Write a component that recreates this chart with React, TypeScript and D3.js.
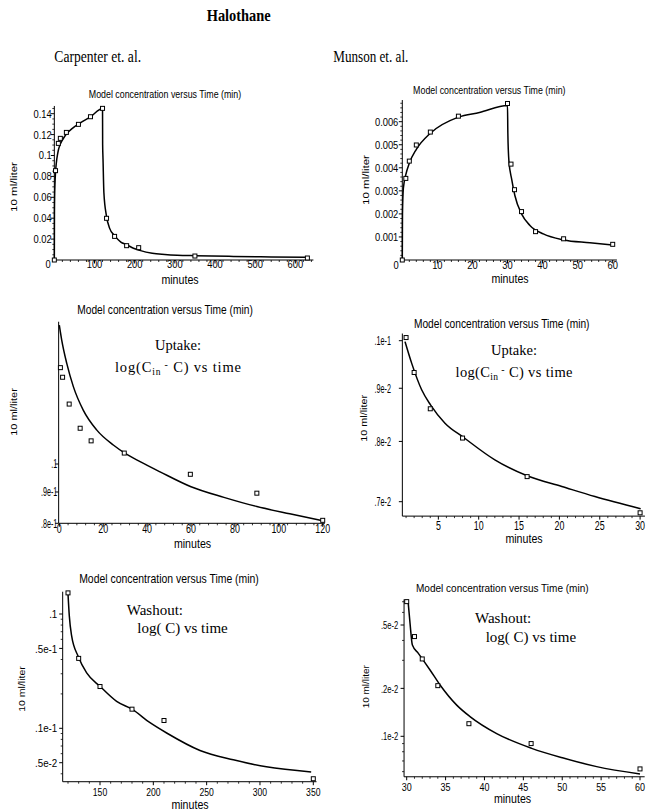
import React from 'react';
import * as d3 from 'd3';

type Pt = [number, number];

const SANS = "'Liberation Sans', Arial, Helvetica, sans-serif";
const SERIF = "'Liberation Serif', 'Times New Roman', serif";

// ---------------- data ----------------
// Carpenter et. al. – concentration vs time (linear)
const carpenterPoints: Pt[] = [
  [0, 0], [3, 0.0855], [10, 0.1116], [15, 0.1164], [30, 0.1221], [60, 0.1298], [90, 0.1371],
  [120, 0.1451], [130, 0.0399], [150, 0.0226], [180, 0.0137], [210, 0.0118], [350, 0.0038], [630, 0.0019],
];
const carpenterCurve: Pt[] = [
  [0, 0], [0.3, 0.045], [0.8, 0.062], [1.5, 0.072], [3, 0.084], [5, 0.093], [8, 0.101], [10, 0.105],
  [15, 0.111], [22, 0.116], [31, 0.121], [45, 0.126], [64, 0.131], [90, 0.137], [120, 0.145],
  [120.3, 0.11], [121.2, 0.0967], [123.4, 0.0644], [129.7, 0.0423], [137.5, 0.0305], [150, 0.0233],
  [165.6, 0.0172], [180, 0.0147], [196.9, 0.0112], [212.5, 0.0092], [243.8, 0.0064], [275, 0.0053],
  [306, 0.0046], [350, 0.0041], [446, 0.0034], [540, 0.0029], [630, 0.0026],
];
const carpXTicks = [100, 200, 300, 400, 500, 600];
const carpXTickLabels = ['100', '200', '300', '400', '500', '600'];
const carpYTicks = [0.02, 0.04, 0.06, 0.08, 0.1, 0.12, 0.14];
const carpYTickLabels = ['0.02', '0.04', '0.06', '0.08', '0.1', '0.12', '0.14'];

// Munson et. al. – concentration vs time (linear)
const munsonPoints: Pt[] = [
  [0, 0], [1, 0.00354], [2, 0.00429], [4, 0.00499], [8, 0.00555], [16, 0.00624], [30, 0.00679],
  [31, 0.00416], [32, 0.00305], [34, 0.0021], [38, 0.00123], [46, 0.00092], [60, 0.00068],
];
const munsonCurve: Pt[] = [
  [0, 0], [0.05, 0.002], [0.3, 0.0031], [1, 0.0037], [2, 0.0042], [4, 0.0048], [8, 0.0055],
  [16, 0.0062], [22, 0.0064], [30, 0.0067], [30.1, 0.0055], [30.4, 0.0043], [31.2, 0.0035],
  [32.1, 0.0028], [34, 0.002], [36.4, 0.0015], [40.2, 0.00113], [46, 0.00087], [53.5, 0.00075], [60, 0.00065],
];
const munXTicks = [10, 20, 30, 40, 50, 60];
const munXTickLabels = ['10', '20', '30', '40', '50', '60'];
const munYTicks = [0.001, 0.002, 0.003, 0.004, 0.005, 0.006];
const munYTickLabels = ['0.001', '0.002', '0.003', '0.004', '0.005', '0.006'];

// Carpenter uptake: log(Cin - C)
const carpUptakePoints: Pt[] = [
  [0.5, 0.1437], [1.5, 0.1386], [4.5, 0.1253], [9.5, 0.1144], [14.5, 0.1091],
  [29.6, 0.1042], [59.7, 0.0962], [90, 0.0896], [120, 0.0809],
];
const carpUptakeCurve: Pt[] = [
  [0, 0.1686], [1.1, 0.1594], [3.4, 0.146], [6.4, 0.1338], [10.9, 0.1225], [17, 0.1137],
  [24.6, 0.1074], [30, 0.1041], [36.8, 0.1009], [45.9, 0.0971], [60, 0.0918], [75, 0.0882],
  [90, 0.0852], [105, 0.0829], [120, 0.0808],
];
const cupXTicks = [0, 20, 40, 60, 80, 100, 120];
const cupXTickLabels = ['0', '20', '40', '60', '80', '100', '120'];
const cupYTicks = [0.1, 0.09, 0.08];
const cupYTickLabels = ['.1', '.9e-1', '.8e-1'];

// Munson uptake: log(Cin - C)
const munUptakePoints: Pt[] = [
  [1, 0.01007], [2, 0.00932], [4, 0.0086], [8, 0.00806], [16, 0.0074], [30, 0.00683],
];
const munUptakeCurve: Pt[] = [
  [0.87, 0.00998], [1.7, 0.00951], [2.93, 0.00897], [4.05, 0.00867], [5.82, 0.00833],
  [8.14, 0.00807], [12, 0.00768], [16.07, 0.00741], [20.3, 0.00724], [24.4, 0.00708], [30.07, 0.00689],
];
const mupXTicks = [5, 10, 15, 20, 25, 30];
const mupXTickLabels = ['5', '10', '15', '20', '25', '30'];
const mupYTicks = [0.01, 0.009, 0.008, 0.007];
const mupYTickLabels = ['.1e-1', '.9e-2', '.8e-2', '.7e-2'];

// Carpenter washout: log(C)
const carpWashPoints: Pt[] = [
  [120, 0.153], [130, 0.0409], [150, 0.0232], [180, 0.0147], [210, 0.0117], [350, 0.00362],
];
const carpWashCurve: Pt[] = [
  [120, 0.15], [121.2, 0.0967], [123.4, 0.0644], [129.7, 0.0423], [137.5, 0.0305], [150, 0.0233],
  [165.6, 0.0172], [180, 0.0147], [196.9, 0.0112], [212.5, 0.0091], [243.75, 0.0064],
  [275, 0.0053], [306, 0.0046], [348, 0.00415],
];
const cwXTicks = [150, 200, 250, 300, 350];
const cwXTickLabels = ['150', '200', '250', '300', '350'];
const cwYTicks = [0.1, 0.05, 0.01, 0.005];
const cwYTickLabels = ['.1', '.5e-1', '.1e-1', '.5e-2'];
const cwYMinor = [0.09, 0.08, 0.07, 0.06, 0.04, 0.03, 0.02, 0.009, 0.008, 0.007, 0.006, 0.004];

// Munson washout: log(C)
const munWashPoints: Pt[] = [
  [30, 0.00701], [31, 0.00423], [32, 0.00306], [34, 0.00208], [38, 0.0012], [46, 0.0009], [60, 0.000624],
];
const munWashCurve: Pt[] = [
  [30.2, 0.00684], [30.43, 0.00512], [30.73, 0.00374], [31.5, 0.00332], [33, 0.00261],
  [34.29, 0.0021], [36.43, 0.00157], [38.14, 0.00133], [41.57, 0.00104], [46.07, 0.00084],
  [50.14, 0.00073], [54.43, 0.000645], [60, 0.00058],
];
const mwXTicks = [30, 35, 40, 45, 50, 55, 60];
const mwXTickLabels = ['30', '35', '40', '45', '50', '55', '60'];
const mwYTicks = [0.005, 0.002, 0.001];
const mwYTickLabels = ['.5e-2', '.2e-2', '.1e-2'];
const mwYMinor = [0.007, 0.006, 0.004, 0.003, 0.0009, 0.0008, 0.0007, 0.0006];

// ---------------- helpers ----------------
function Txt({ x, y, size, sx = 0.85, anchor = 'middle', family = SANS, weight = 'normal', rotate = false, children }: any) {
  const tr = rotate
    ? `translate(${x},${y}) rotate(-90) scale(1,${sx})`
    : `translate(${x},${y}) scale(${sx},1)`;
  return (
    <text transform={tr} fontSize={size} fontFamily={family} fontWeight={weight} textAnchor={anchor} fill="#000">
      {children}
    </text>
  );
}

interface Spec {
  x: any; y: any;
  xMin: number; xMax: number; yMin: number; yMax: number;
  xTicks: number[]; xTickLabels: string[]; xMinor: number[];
  yTicks: number[]; yTickLabels: string[]; yMinor: number[];
  xFont: [number, number]; yFont: [number, number];
  xLabelBase: number; yLabelRight: number;
  zero?: Pt;
  title: { x: number; y: number; size: number; sx: number };
  xlab: { x: number; y: number; size: number };
  ylab: { x: number; y: number; size: number };
  curve: Pt[]; points: Pt[];
}

function Panel({ p }: { p: Spec }) {
  const x0 = p.x(p.xMin), x1 = p.x(p.xMax), y0 = p.y(p.yMin), y1 = p.y(p.yMax);
  const line = d3.line<Pt>().x(d => p.x(d[0])).y(d => p.y(d[1])).curve(d3.curveMonotoneX);
  return (
    <g>
      <Txt x={p.title.x} y={p.title.y} size={p.title.size} sx={p.title.sx}>Model concentration versus Time (min)</Txt>
      <line x1={x0} x2={x1} y1={y0} y2={y0} stroke="#000" strokeWidth={1} />
      <line x1={x0} x2={x0} y1={y0} y2={y1} stroke="#000" strokeWidth={1} />
      {p.xMinor.map((v, i) => (
        <line key={'xm' + i} x1={p.x(v)} x2={p.x(v)} y1={y0} y2={y0 + 2} stroke="#000" strokeWidth={0.8} />
      ))}
      {p.yMinor.map((v, i) => (
        <line key={'ym' + i} x1={x0 - 2} x2={x0} y1={p.y(v)} y2={p.y(v)} stroke="#000" strokeWidth={0.8} />
      ))}
      {p.xTicks.map((v, i) => (
        <g key={'xt' + i}>
          <line x1={p.x(v)} x2={p.x(v)} y1={y0} y2={y0 + 3.5} stroke="#000" strokeWidth={1} />
          <Txt x={p.x(v)} y={p.xLabelBase} size={p.xFont[0]} sx={p.xFont[1]}>{p.xTickLabels[i]}</Txt>
        </g>
      ))}
      {p.yTicks.map((v, i) => (
        <g key={'yt' + i}>
          <line x1={x0 - 3.5} x2={x0} y1={p.y(v)} y2={p.y(v)} stroke="#000" strokeWidth={1} />
          <Txt x={p.yLabelRight} y={p.y(v) + p.yFont[0] * 0.36} size={p.yFont[0]} sx={p.yFont[1]} anchor="end">
            {p.yTickLabels[i]}
          </Txt>
        </g>
      ))}
      {p.zero && <Txt x={p.zero[0]} y={p.zero[1]} size={p.xFont[0]} sx={p.xFont[1]}>0</Txt>}
      <Txt x={p.xlab.x} y={p.xlab.y} size={p.xlab.size}>minutes</Txt>
      <Txt x={p.ylab.x} y={p.ylab.y} size={p.ylab.size} rotate>10 ml/liter</Txt>
      <path d={line(p.curve) || ''} fill="none" stroke="#000" strokeWidth={1.5} />
      {p.points.map((d, i) => (
        <rect key={'pt' + i} x={p.x(d[0]) - 2} y={p.y(d[1]) - 2} width={4} height={4}
          fill="#fff" stroke="#000" strokeWidth={1} />
      ))}
    </g>
  );
}

function UptakeNote({ x, y1, y2, len }: { x: number; y1: number; y2: number; len: number }) {
  return (
    <g fontFamily={SERIF} fill="#000">
      <text x={x} y={y1} fontSize={14.5} textAnchor="middle">Uptake:</text>
      <text x={x} y={y2} fontSize={14.5} textAnchor="middle" textLength={len} lengthAdjust="spacing">
        log(C<tspan dy={3} fontSize={9.5}>in</tspan><tspan dy={-7} fontSize={10}> -</tspan><tspan dy={4}> C) vs time</tspan>
      </text>
    </g>
  );
}

function WashNote({ x1, x2, y1, y2 }: { x1: number; x2: number; y1: number; y2: number }) {
  return (
    <g fontFamily={SERIF} fill="#000">
      <text x={x1} y={y1} fontSize={15}>Washout:</text>
      <text x={x2} y={y2} fontSize={15}>log( C) vs time</text>
    </g>
  );
}

// ---------------- panels ----------------
const panelA: Spec = {
  x: d3.scaleLinear().domain([0, 600]).range([54.33, 295.33]),
  y: d3.scaleLinear().domain([0, 0.14]).range([260, 113.7]),
  xMin: 0, xMax: 645, yMin: 0, yMax: 0.1474,
  xTicks: carpXTicks, xTickLabels: carpXTickLabels,
  xMinor: d3.range(20, 641, 20).filter(v => v % 100 !== 0),
  yTicks: carpYTicks, yTickLabels: carpYTickLabels,
  yMinor: d3.range(1, 30).map(k => k * 0.005).filter((v, i) => (i + 1) % 4 !== 0),
  xFont: [11, 0.85], yFont: [11, 0.85],
  xLabelBase: 268, yLabelRight: 51.7, zero: [48, 268],
  title: { x: 165, y: 98, size: 10, sx: 0.885 },
  xlab: { x: 180, y: 284, size: 12.5 },
  ylab: { x: 17, y: 187, size: 11.5 },
  curve: carpenterCurve, points: carpenterPoints,
};

const panelB: Spec = {
  x: d3.scaleLinear().domain([0, 60]).range([402.3, 612.7]),
  y: d3.scaleLinear().domain([0, 0.006]).range([260, 121.7]),
  xMin: 0, xMax: 61.2, yMin: 0, yMax: 0.00694,
  xTicks: munXTicks, xTickLabels: munXTickLabels,
  xMinor: d3.range(2, 61, 2).filter(v => v % 10 !== 0),
  yTicks: munYTicks, yTickLabels: munYTickLabels,
  yMinor: d3.range(1, 35).map(k => k * 0.0002).filter((v, i) => (i + 1) % 5 !== 0),
  xFont: [11, 0.85], yFont: [11, 0.85],
  xLabelBase: 268.5, yLabelRight: 398.3, zero: [396, 268.5],
  title: { x: 489.3, y: 94, size: 10, sx: 0.885 },
  xlab: { x: 510, y: 282.5, size: 12.5 },
  ylab: { x: 368.5, y: 180, size: 11.5 },
  curve: munsonCurve, points: munsonPoints,
};

const panelC: Spec = {
  x: d3.scaleLinear().domain([0, 120]).range([59.3, 322.7]),
  y: d3.scaleLog().domain([0.08, 0.1]).range([523.3, 464]),
  xMin: -0.3, xMax: 121, yMin: 0.08, yMax: 0.1708,
  xTicks: cupXTicks, xTickLabels: cupXTickLabels,
  xMinor: d3.range(4, 121, 4).filter(v => v % 20 !== 0),
  yTicks: cupYTicks, yTickLabels: cupYTickLabels, yMinor: [],
  xFont: [12, 0.74], yFont: [12, 0.6],
  xLabelBase: 533, yLabelRight: 57.3,
  title: { x: 165, y: 314, size: 12, sx: 0.85 },
  xlab: { x: 192.5, y: 548, size: 12.5 },
  ylab: { x: 17, y: 412, size: 11 },
  curve: carpUptakeCurve, points: carpUptakePoints,
};

const panelD: Spec = {
  x: d3.scaleLinear().domain([0, 30]).range([398, 640.1]),
  y: d3.scaleLog().domain([0.007, 0.01]).range([501.7, 340.7]),
  xMin: 0.54, xMax: 30.6, yMin: 0.00678, yMax: 0.01016,
  xTicks: mupXTicks, xTickLabels: mupXTickLabels,
  xMinor: d3.range(1, 31, 1).filter(v => v % 5 !== 0),
  yTicks: mupYTicks, yTickLabels: mupYTickLabels, yMinor: [],
  xFont: [12, 0.74], yFont: [12, 0.6],
  xLabelBase: 529.5, yLabelRight: 391,
  title: { x: 501.7, y: 328, size: 12, sx: 0.85 },
  xlab: { x: 524, y: 543.3, size: 12.5 },
  ylab: { x: 367, y: 418.3, size: 10.8 },
  curve: munUptakeCurve, points: munUptakePoints,
};

const panelE: Spec = {
  x: d3.scaleLinear().domain([150, 350]).range([100, 313.3]),
  y: d3.scaleLog().domain([0.01, 0.1]).range([728.3, 614]),
  xMin: 115, xMax: 353, yMin: 0.00341, yMax: 0.1567,
  xTicks: cwXTicks, xTickLabels: cwXTickLabels,
  xMinor: d3.range(120, 351, 10).filter(v => v % 50 !== 0),
  yTicks: cwYTicks, yTickLabels: cwYTickLabels, yMinor: cwYMinor,
  xFont: [11.5, 0.75], yFont: [11.5, 0.85],
  xLabelBase: 796, yLabelRight: 57.3,
  title: { x: 169, y: 583.3, size: 12, sx: 0.87 },
  xlab: { x: 190, y: 809, size: 12.5 },
  ylab: { x: 24.5, y: 689, size: 10.5 },
  curve: carpWashCurve, points: carpWashPoints,
};

const panelF: Spec = {
  x: d3.scaleLinear().domain([30, 60]).range([406.7, 640]),
  y: d3.scaleLog().domain([0.001, 0.005]).range([736.3, 625]),
  xMin: 29.66, xMax: 60.6, yMin: 0.000557, yMax: 0.00724,
  xTicks: mwXTicks, xTickLabels: mwXTickLabels,
  xMinor: d3.range(31, 61, 1).filter(v => v % 5 !== 0),
  yTicks: mwYTicks, yTickLabels: mwYTickLabels, yMinor: mwYMinor,
  xFont: [11.5, 0.78], yFont: [11.5, 0.66],
  xLabelBase: 790.7, yLabelRight: 398.3,
  title: { x: 502.3, y: 591.7, size: 11.8, sx: 0.85 },
  xlab: { x: 512.5, y: 803.3, size: 12.5 },
  ylab: { x: 369, y: 686.7, size: 10 },
  curve: munWashCurve, points: munWashPoints,
};

export default function App() {
  return (
    <svg width={654} height={812} viewBox="0 0 654 812"
      style={{ position: 'absolute', left: 0, top: 0, background: '#fff' }}>
      <rect x={0} y={0} width={654} height={812} fill="#fff" />
      <Txt x={238.7} y={21} size={16} sx={0.9} family={SERIF} weight="bold">Halothane</Txt>
      <Txt x={97.7} y={62} size={16} sx={0.85} family={SERIF}>Carpenter et. al.</Txt>
      <Txt x={370.8} y={62} size={16} sx={0.82} family={SERIF}>Munson et. al.</Txt>
      <Panel p={panelA} />
      <Panel p={panelB} />
      <Panel p={panelC} />
      <Panel p={panelD} />
      <Panel p={panelE} />
      <Panel p={panelF} />
      <UptakeNote x={178} y1={350} y2={371.7} len={126} />
      <UptakeNote x={514} y1={355} y2={376.7} len={117} />
      <WashNote x1={126.7} x2={137.3} y1={615} y2={633.3} />
      <WashNote x1={475} x2={485.7} y1={623.3} y2={641.7} />
    </svg>
  );
}
